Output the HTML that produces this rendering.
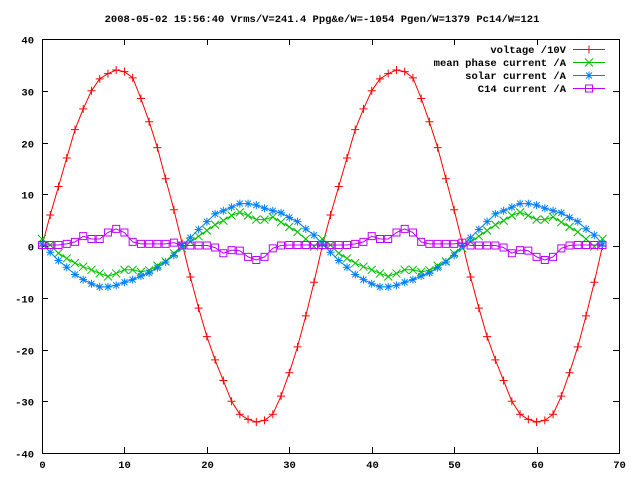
<!DOCTYPE html>
<html><head><meta charset="utf-8"><style>
body{margin:0;background:#fff}
svg text{font-family:"Liberation Mono","DejaVu Sans Mono",monospace;font-size:10.5px;font-weight:bold;fill:#000}
</style></head><body>
<svg id="chart" width="640" height="480" xmlns="http://www.w3.org/2000/svg">
<text x="322" y="22" text-anchor="middle">2008-05-02 15:56:40 Vrms/V=241.4 Ppg&amp;e/W=-1054 Pgen/W=1379 Pc14/W=121</text>
<g id="axes"></g><g id="series"></g><g id="legend"></g>
</svg>
<script>
const xTicks=[0,10,20,30,40,50,60,70];
const yTicks=[-40,-30,-20,-10,0,10,20,30,40];
const voltage=[0,6,11.5,17,22.5,26.5,30,32.3,33.3,34,33.7,32.5,28.5,24,19,13,7,0.5,-6,-12,-17.5,-22,-26,-30,-32.5,-33.5,-34,-33.7,-32.5,-29,-24.5,-19.5,-13.5,-7,0,6,11.5,17,22.5,26.5,30,32.3,33.3,34,33.7,32.5,28.5,24,19,13,7,0.5,-6,-12,-17.5,-22,-26,-30,-32.5,-33.5,-34,-33.7,-32.5,-29,-24.5,-19.5,-13.5,-7,0];
const meanPhase=[1.35,0.2,-1.4,-2.4,-3.3,-4,-4.6,-5.3,-5.9,-5.3,-4.6,-4.6,-5,-4.7,-3.8,-3,-1.4,-0.45,0.8,1.9,3,4.1,4.9,5.9,6.5,5.9,5.1,5.1,5.6,4.6,3.7,2.7,1.35,-0.1,1.35,0.2,-1.4,-2.4,-3.3,-4,-4.6,-5.3,-5.9,-5.3,-4.6,-4.6,-5,-4.7,-3.8,-3,-1.4,-0.45,0.8,1.9,3,4.1,4.9,5.9,6.5,5.9,5.1,5.1,5.6,4.6,3.7,2.7,1.35,-0.1,1.35];
const solar=[0.4,-1.2,-2.8,-4.1,-5.5,-6.5,-7.3,-7.9,-7.9,-7.6,-7,-6.5,-5.8,-5.2,-4.2,-3.1,-1.8,0.1,1.6,3.2,4.7,6.2,6.8,7.5,8.2,8.2,7.9,7.3,6.8,6.4,5.5,4.7,3.3,2.1,0.4,-1.2,-2.8,-4.1,-5.5,-6.5,-7.3,-7.9,-7.9,-7.6,-7,-6.5,-5.8,-5.2,-4.2,-3.1,-1.8,0.1,1.6,3.2,4.7,6.2,6.8,7.5,8.2,8.2,7.9,7.3,6.8,6.4,5.5,4.7,3.3,2.1,0.4];
const c14=[0.2,0.2,0.2,0.4,0.8,1.9,1.35,1.35,2.6,3.3,2.6,0.8,0.4,0.4,0.4,0.4,0.65,0.1,0.1,0.1,0.1,-0.3,-1.4,-0.8,-0.9,-2.1,-2.7,-2.1,-0.45,0.1,0.2,0.2,0.2,0.2,0.2,0.2,0.2,0.2,0.4,0.8,1.9,1.35,1.35,2.6,3.3,2.6,0.8,0.4,0.4,0.4,0.4,0.65,0.1,0.1,0.1,0.1,-0.3,-1.4,-0.8,-0.9,-2.1,-2.7,-2.1,-0.45,0.1,0.2,0.2,0.2,0.2];
const seriesNames=["voltage /10V","mean phase current /A","solar current /A","C14 current /A"];
const L=42,R=619,T=39,B=453;
const sx=v=>L+(v-0)/(70-0)*(R-L);
const sy=v=>B-(v+40)/80*(B-T);
const NS="http://www.w3.org/2000/svg";
function mk(tag,attrs,parent){const e=document.createElementNS(NS,tag);for(const k in attrs)e.setAttribute(k,attrs[k]);parent.appendChild(e);return e;}
const axes=document.getElementById('axes'),ser=document.getElementById('series'),leg=document.getElementById('legend');
const frame=mk('rect',{x:L+0.5,y:T+0.5,width:R-L,height:B-T,fill:'none',stroke:'#000','stroke-width':1},axes);


xTicks.forEach(t=>{const x=Math.round(sx(t))+0.5;
 const tk=mk('path',{d:`M${x} ${B}v-6M${x} ${T}v6`,stroke:'#000','stroke-width':1},axes);
 
 
 const lb=mk('text',{x:x,y:B+15,'text-anchor':'middle'},axes);lb.textContent=t;
 
 });
yTicks.forEach(t=>{const y=Math.round(sy(t))+0.5;
 const tk=mk('path',{d:`M${L} ${y}h6M${R} ${y}h-6`,stroke:'#000','stroke-width':1},axes);
 
 
 const lb=mk('text',{x:L-8,y:y+4,'text-anchor':'end'},axes);lb.textContent=t;
 
 });
const colors=['#ff0000','#00c000','#0080ff','#c000ff'];
function marker(k,x,y,g){const c=colors[k];let d;
 if(k==0)d=`M${x-4} ${y}h8M${x} ${y-4}v8`;
 else if(k==1)d=`M${x-4} ${y-4}l8 8M${x-4} ${y+4}l8 -8`;
 else if(k==2)d=`M${x-4} ${y}h8M${x} ${y-4}v8M${x-3} ${y-3}l6 6M${x-3} ${y+3}l6 -6`;
 else d=`M${x-3.5} ${y-3.5}h7v7h-7z`;
 const m=mk('path',{d:d,stroke:c,'stroke-width':1,fill:'none'},g);
 
 }
[voltage,meanPhase,solar,c14].forEach((arr,k)=>{
 const g=mk('g',{},ser);
 
 
 const pts=arr.map((v,i)=>sx(i).toFixed(1)+','+sy(v).toFixed(1)).join(' ');
 const pl=mk('polyline',{points:pts,fill:'none',stroke:colors[k],'stroke-width':1},g);
 
 
 arr.forEach((v,i)=>marker(k,sx(i),sy(v),g));
 const yy=49+k*13;
 const lt=mk('text',{x:566,y:yy+4,'text-anchor':'end'},leg);lt.textContent=seriesNames[k];
 
 
 const ll=mk('path',{d:`M573 ${yy+0.5}h32`,stroke:colors[k],'stroke-width':1},leg);
 
 
 marker(k,589,yy+0.5,leg);
});
</script>
</body></html>
